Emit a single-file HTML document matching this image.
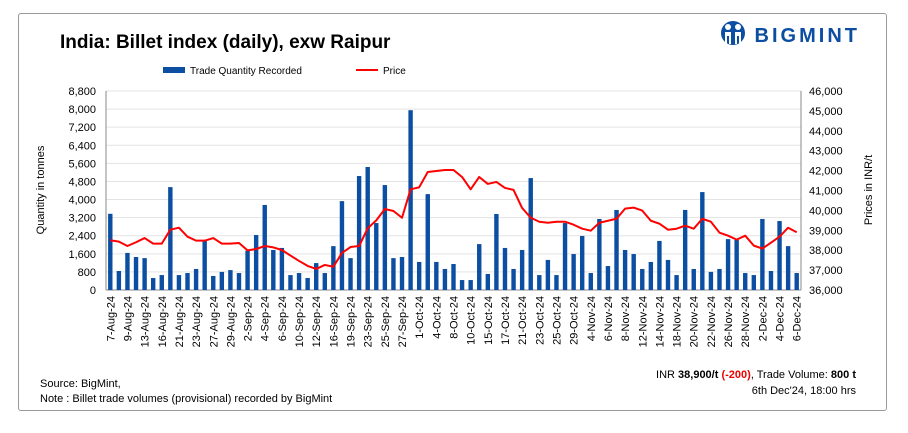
<!DOCTYPE html>
<html><head><meta charset="utf-8"><style>
body{margin:0;background:#fff;width:908px;height:433px;overflow:hidden;font-family:"Liberation Sans",sans-serif}
#frame{position:absolute;left:18px;top:13px;width:867px;height:396px;border:1px solid #999;border-radius:3px}
.t{position:absolute;white-space:nowrap}
</style></head><body>
<div id="frame"></div>
<div class="t" style="left:60px;top:32px;font-size:19px;font-weight:bold;color:#000">India: Billet index (daily), exw Raipur</div>
<div class="t" style="left:720px;top:20px;color:#0b4ea2;font-weight:900;font-size:20px;letter-spacing:3px">
<svg width="26" height="28" viewBox="0 0 26 28" style="vertical-align:-6px"><circle cx="13" cy="13" r="12" fill="#0b4ea2"/><circle cx="8" cy="7" r="3" fill="#fff"/><circle cx="18" cy="7" r="3" fill="#fff"/><path d="M5 12 h6 v12 h-2 v-8 h-2 v8 h-2z M15 12 h6 v12 h-2 v-8 h-2 v8 h-2z" fill="#fff"/></svg> BIGMINT</div>
<svg id="chart" width="908" height="433" style="position:absolute;left:0;top:0" font-family="Liberation Sans, sans-serif"></svg>
<div class="t" style="left:40px;top:378px;font-size:11px;color:#000">Source: BigMint,</div>
<div class="t" style="left:40px;top:393px;font-size:11px;color:#000">Note : Billet trade volumes (provisional) recorded by BigMint</div>
<div class="t" style="right:52px;top:369px;font-size:11px;color:#000;text-align:right">INR <b>38,900/t</b> <b style="color:#e00">(-200)</b>, Trade Volume: <b>800 t</b></div>
<div class="t" style="right:52px;top:385px;font-size:11px;color:#000">6th Dec'24, 18:00 hrs</div>
<script>
const qty=[3370,840,1640,1460,1410,530,660,4550,660,750,930,2180,620,800,880,750,1740,2430,3760,1770,1860,660,750,530,1190,750,1940,3930,1410,5040,5440,2960,4640,1410,1460,7950,1240,4240,1240,930,1150,440,440,2030,710,3360,1860,930,1770,4950,660,1330,660,2960,1590,2390,750,3140,1060,3540,1770,1590,930,1240,2170,1330,660,3540,930,4330,800,930,2250,2210,750,660,3140,840,3050,1940,750];
const price=[38500,38430,38210,38400,38610,38330,38330,39030,39130,38680,38480,38480,38610,38330,38330,38360,37990,38060,38210,38140,38010,37730,37460,37210,37060,37260,37170,37860,38160,38210,39100,39500,40070,39970,39630,41060,41160,41930,41980,42030,42030,41680,41060,41680,41330,41430,41130,41030,40120,39630,39430,39380,39430,39430,39280,39080,38980,39380,39480,39580,40090,40140,39990,39480,39330,39030,39080,39230,39080,39580,39430,38880,38730,38530,38730,38230,38080,38380,38680,39130,38900];
const xLabels=["7-Aug-24","9-Aug-24","13-Aug-24","16-Aug-24","21-Aug-24","23-Aug-24","27-Aug-24","29-Aug-24","2-Sep-24","4-Sep-24","6-Sep-24","10-Sep-24","12-Sep-24","16-Sep-24","19-Sep-24","23-Sep-24","25-Sep-24","27-Sep-24","1-Oct-24","4-Oct-24","8-Oct-24","10-Oct-24","15-Oct-24","17-Oct-24","21-Oct-24","23-Oct-24","25-Oct-24","29-Oct-24","4-Nov-24","6-Nov-24","8-Nov-24","12-Nov-24","14-Nov-24","18-Nov-24","20-Nov-24","22-Nov-24","26-Nov-24","28-Nov-24","2-Dec-24","4-Dec-24","6-Dec-24"];
const leftTicks=[0,800,1600,2400,3200,4000,4800,5600,6400,7200,8000,8800];
const rightTicks=[36000,37000,38000,39000,40000,41000,42000,43000,44000,45000,46000];
const NS="http://www.w3.org/2000/svg",svg=document.getElementById('chart');
const X0=106,X1=801,Y0=290,Y1=91,n=qty.length,step=(X1-X0)/n;
const xc=i=>X0+step*(i+0.5);
const yL=v=>Y0-(v/8800)*(Y0-Y1);
const yR=v=>Y0-((v-36000)/10000)*(Y0-Y1);
function mk(t,a,txt){const e=document.createElementNS(NS,t);for(const k in a)e.setAttribute(k,a[k]);if(txt!=null)e.textContent=txt;svg.appendChild(e);return e;}
leftTicks.forEach(v=>{
 const g=mk('line',{x1:X0,x2:X1,y1:yL(v),y2:yL(v),stroke:v?'#e3e3e3':'#888','stroke-width':1});
 
 
 const t=mk('text',{x:96,y:yL(v)+4,'text-anchor':'end','font-size':11,fill:'#000'},v.toLocaleString('en-US'));
 
 
});
rightTicks.forEach(v=>{
 const t=mk('text',{x:809,y:yR(v)+4,'font-size':11,fill:'#000'},v.toLocaleString('en-US'));
 
 
});
let ax=mk('line',{x1:X0,x2:X0,y1:Y1,y2:Y0,stroke:'#888'});
ax=mk('line',{x1:X1,x2:X1,y1:Y1,y2:Y0,stroke:'#888'});
qty.forEach((v,i)=>{
 const b=mk('rect',{x:xc(i)-2.2,y:yL(v),width:4.4,height:Y0-yL(v),fill:'#0b4ea2'});
 
 
});
const ln=mk('polyline',{points:price.map((v,i)=>xc(i)+','+yR(v)).join(' '),fill:'none',stroke:'#f00','stroke-width':2,'stroke-linejoin':'round'});


xLabels.forEach((l,k)=>{
 const x=xc(k*2);
 const t=mk('text',{x:0,y:0,'text-anchor':'end','font-size':11,fill:'#000',transform:`translate(${x+4},296) rotate(-90)`},l);
 
 
});
let t=mk('text',{x:0,y:0,'text-anchor':'middle','font-size':11,transform:'translate(44,190) rotate(-90)'},'Quantity in tonnes');

t=mk('text',{x:0,y:0,'text-anchor':'middle','font-size':11,transform:'translate(872,190) rotate(-90)'},'Prices in INR/t');

let r=mk('rect',{x:163,y:67,width:22,height:6,fill:'#0b4ea2'});
t=mk('text',{x:190,y:74,'font-size':10},'Trade Quantity Recorded');
r=mk('line',{x1:356,x2:378,y1:70,y2:70,stroke:'#f00','stroke-width':2});
t=mk('text',{x:383,y:74,'font-size':10},'Price');
</script>
</body></html>
